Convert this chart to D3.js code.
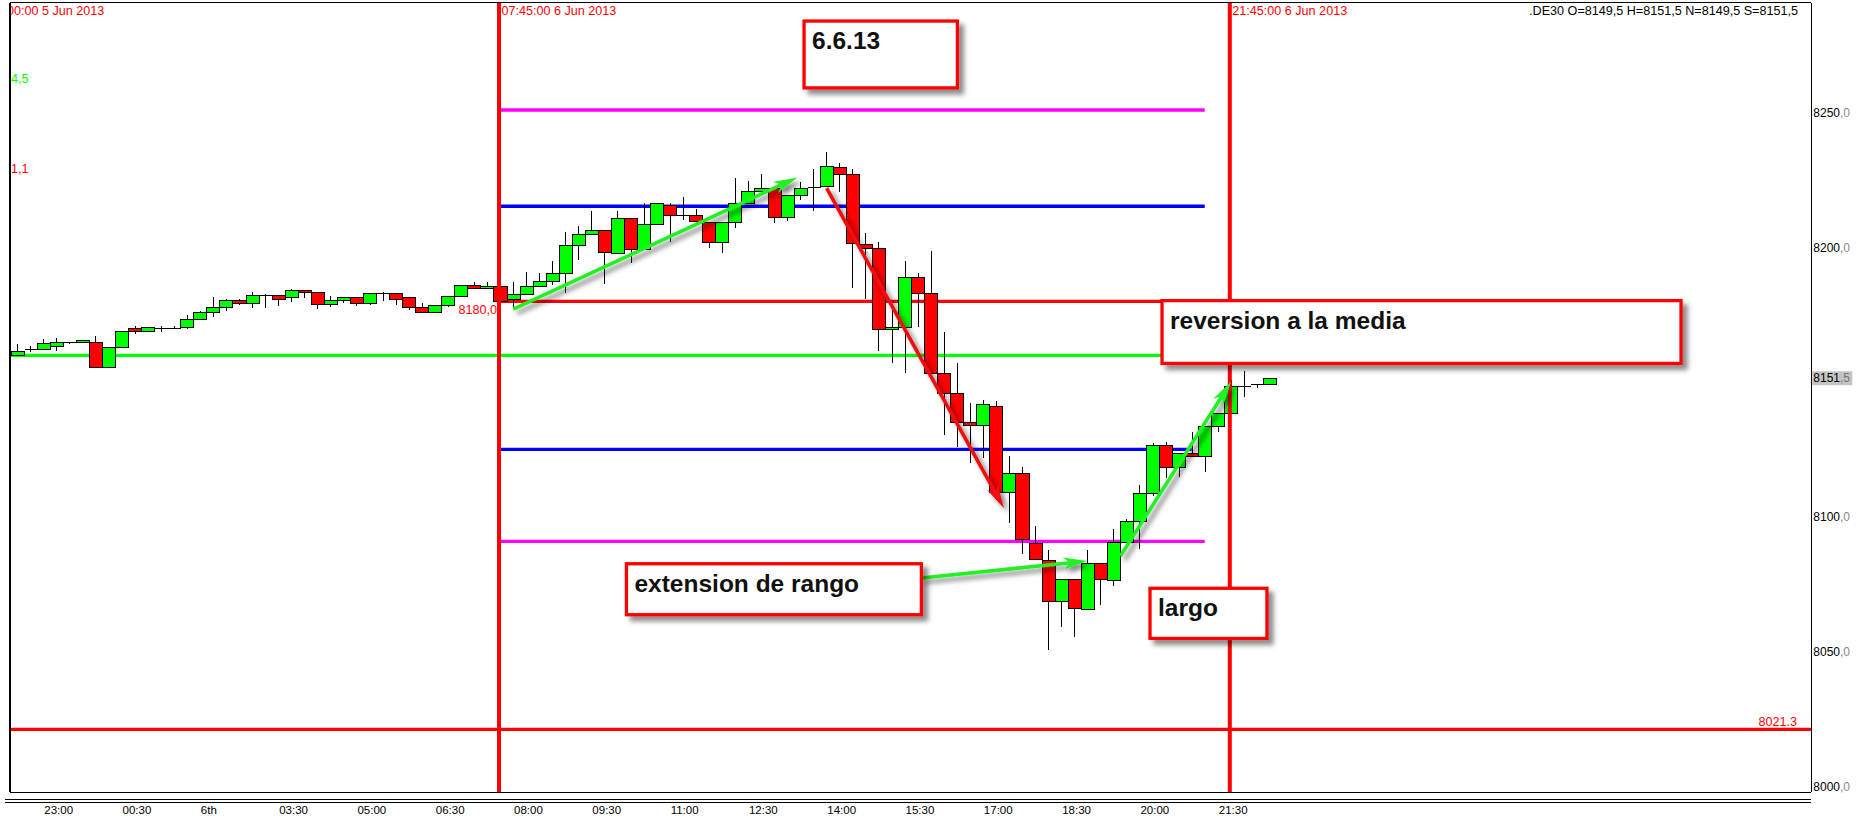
<!DOCTYPE html>
<html><head><meta charset="utf-8">
<script src="https://cdn.jsdelivr.net/npm/d3@7/dist/d3.min.js"></script>
<style>
html,body{margin:0;padding:0;background:#fff;overflow:hidden;}
svg{display:block;}
text{font-family:"Liberation Sans",Arial,sans-serif;}
</style></head><body>
<svg id="chart" width="1857" height="820"></svg>
<script>
// ---------- DATA ----------
const times = ("22:30 22:45 23:00 23:15 23:30 23:45 00:00 00:15 00:30 00:45 01:00 01:15 01:30 01:45 " +
  "02:00 02:15 02:30 02:45 03:00 03:15 03:30 03:45 04:00 04:15 04:30 04:45 05:00 05:15 05:30 05:45 " +
  "06:00 06:15 06:30 06:45 07:00 07:15 07:30 07:45 08:00 08:15 08:30 08:45 09:00 09:15 09:30 09:45 " +
  "10:00 10:15 10:30 10:45 11:00 11:15 11:30 11:45 12:00 12:15 12:30 12:45 13:00 13:15 13:30 13:45 " +
  "14:00 14:15 14:30 14:45 15:00 15:15 15:30 15:45 16:00 16:15 16:30 16:45 17:00 17:15 17:30 17:45 " +
  "18:00 18:15 18:30 18:45 19:00 19:15 19:30 19:45 20:00 20:15 20:30 20:45 21:00 21:15 21:30 21:45 " +
  "22:00 22:15 22:30b").split(" ");
const open = [8160.0,8162.2,8162.2,8163.3,8164.8,8164.8,8164.8,8155.6,8163.1,8170.0,8168.9,8170.1,8170.1,8170.4,
  8173.4,8176.0,8177.8,8180.4,8179.3,8182.3,8182.3,8181.5,8184.2,8183.4,8178.9,8180.4,8181.5,8179.3,8183.0,8183.0,
  8181.5,8177.8,8176.0,8178.6,8181.9,8186.0,8185.0,8185.6,8180.8,8182.8,8185.7,8187.7,8190.4,8200.8,8204.9,8206.4,
  8197.8,8210.8,8199.3,8208.6,8215.8,8212.1,8212.1,8209.6,8201.9,8209.3,8216.4,8220.8,8222.2,8211.4,8219.4,8222.2,
  8222.7,8230.0,8227.3,8201.2,8199.7,8169.6,8170.6,8188.9,8183.0,8153.3,8145.9,8135.4,8134.1,8141.3,8109.2,8116.2,
  8090.3,8084.1,8068.9,8076.9,8065.8,8083.1,8076.7,8090.6,8098.7,8109.1,8126.7,8118.4,8123.9,8122.7,8133.8,8138.5,
  8148.6,8148.9,8149.5];
const high = [8164.2,8163.5,8166.1,8166.4,8164.8,8165.6,8167.2,8163.1,8168.9,8170.9,8170.4,8170.9,8170.9,8175.0,
  8176.4,8181.6,8180.9,8180.9,8183.5,8182.8,8182.3,8184.7,8184.2,8183.4,8182.1,8181.8,8181.5,8183.3,8183.6,8183.0,
  8181.5,8179.5,8178.6,8181.9,8186.0,8187.2,8187.2,8186.1,8187.1,8190.9,8190.4,8195.1,8205.8,8208.0,8213.5,8206.4,
  8213.7,8210.8,8216.4,8216.4,8216.4,8218.6,8214.2,8209.6,8209.3,8225.7,8224.7,8227.3,8222.2,8219.4,8224.2,8229.0,
  8235.3,8231.5,8229.0,8205.5,8202.2,8177.4,8195.0,8190.7,8198.7,8168.5,8157.0,8142.2,8143.4,8143.1,8122.7,8118.7,
  8096.8,8087.8,8076.9,8076.9,8087.8,8083.1,8095.6,8099.2,8111.9,8127.4,8128.0,8123.9,8131.7,8133.8,8138.5,8150.9,
  8154.3,8149.4,8151.5];
const low = [8159.9,8161.4,8162.2,8161.7,8164.1,8164.8,8155.6,8155.6,8163.1,8167.8,8168.8,8168.8,8170.1,8169.9,
  8173.1,8174.1,8176.3,8178.8,8177.7,8177.7,8178.4,8179.9,8181.4,8177.3,8178.1,8179.3,8178.3,8178.7,8180.0,8178.8,
  8176.8,8176.0,8176.0,8178.1,8181.8,8185.0,8185.0,8180.0,8177.1,8182.8,8185.5,8186.1,8183.2,8195.4,8204.9,8186.3,
  8197.8,8194.4,8199.3,8208.6,8202.2,8210.2,8209.0,8199.9,8197.8,8207.4,8216.4,8220.8,8209.2,8209.8,8217.6,8213.7,
  8222.7,8220.7,8184.9,8180.9,8161.7,8157.3,8153.3,8170.6,8153.3,8130.4,8125.9,8119.9,8121.8,8109.0,8097.7,8086.3,
  8084.4,8050.7,8059.4,8055.4,8065.5,8067.4,8074.4,8090.6,8088.0,8108.0,8114.4,8115.0,8122.5,8116.8,8131.7,8138.5,
  8144.7,8147.8,8149.5];
const close = [8161.7,8162.2,8164.5,8164.8,8164.8,8165.6,8155.6,8163.1,8168.9,8168.9,8170.4,8170.1,8170.1,8173.5,
  8176.0,8177.8,8180.5,8179.3,8182.3,8182.3,8180.8,8184.2,8183.5,8178.9,8180.4,8181.5,8179.3,8183.0,8183.0,8180.8,
  8177.8,8176.0,8178.6,8181.9,8186.0,8185.0,8185.6,8180.0,8182.8,8185.7,8187.7,8190.4,8200.8,8204.9,8206.4,8198.5,
  8210.8,8199.3,8208.6,8216.4,8212.1,8212.1,8209.8,8201.9,8209.3,8216.4,8220.8,8222.2,8211.4,8219.4,8222.2,8222.4,
  8230.1,8227.3,8201.5,8199.7,8169.6,8170.6,8188.9,8183.0,8153.3,8145.9,8135.4,8134.1,8141.8,8109.2,8116.2,8091.9,
  8084.4,8068.9,8076.9,8066.2,8083.1,8076.9,8090.6,8098.7,8109.1,8126.7,8118.7,8123.9,8122.7,8133.8,8138.5,8148.6,
  8148.6,8149.2,8151.5];

const xTickTimes  = ["23:00","00:30","02:00","03:30","05:00","06:30","08:00","09:30","11:00","12:30","14:00","15:30","17:00","18:30","20:00","21:30"];
const xTickLabels = ["23:00","00:30","6th","03:30","05:00","06:30","08:00","09:30","11:00","12:30","14:00","15:30","17:00","18:30","20:00","21:30"];
const yTicks = [8000, 8050, 8100, 8200, 8250];

const markerTimes  = ["07:45", "21:45"];
const markerLabels = ["07:45:00 6 Jun 2013", "21:45:00 6 Jun 2013"];

const levelValues = [8251.0, 8215.3, 8180.0, 8160.0, 8125.1, 8091.0, 8021.3];
const levelFrom   = ["07:45", "07:45", "07:45", null, "07:45", "07:45", null];
const levelTo     = ["21:15", "21:15", "21:15", "21:15", "21:00", "21:15", null];

// arrows: [fractional candle index, price]
const arrowFrom = [[38.02, 8177.1], [62.03, 8222.0], [69.29, 8077.4], [84.55, 8085.6]];
const arrowTo   = [[59.78, 8226.0], [75.62, 8103.3], [82.0, 8083.7], [93.02, 8150.2]];
const arrowKind = ["up", "down", "up", "up"];

// note boxes: text, index range, price range
const noteTexts = ["6.6.13", "reversion a la media", "extension de rango", "largo"];
const noteIdx   = [[60.3, 72.05], [87.73, 127.5], [46.69, 69.29], [86.81, 95.77]];
const notePrice = [[8284.0, 8259.2], [8180.3, 8157.0], [8082.7, 8063.8], [8073.6, 8055.0]];

const header = ".DE30 O=8149,5 H=8151,5 N=8149,5 S=8151,5";
const leftLabels = ["4,5", "1,1"];
const leftLabelPrice = [8262.6, 8229.3];

// ---------- LAYOUT ----------
const W = 1857, H = 820;
const L = 10, R = 1811.3, T = 2.5, B = 792.3;
const svg = d3.select("#chart");
const GREEN = "#00ff00", RED = "#ff0000", BLUE = "#0000ff", MAG = "#ff00ff";

const y = d3.scaleLinear().domain([8000, 8250]).range([786.7, 112.7]);
const xi = d3.scaleLinear().domain([0, times.length - 1]).range([17.15, 17.15 + 13.05 * (times.length - 1)]);
const xb = d3.scaleBand().domain(times).range([xi(-0.5), xi(times.length - 0.5)]).padding(0);
const bw = xb.bandwidth();
const cx = t => xb(t) + bw / 2;

const defs = svg.append("defs");
defs.append("clipPath").attr("id", "plotclip").append("rect")
  .attr("x", L).attr("y", T).attr("width", R - L).attr("height", B - T);
const f1 = defs.append("filter").attr("id", "shBox").attr("x", "-10%").attr("y", "-20%").attr("width", "130%").attr("height", "160%");
f1.append("feDropShadow").attr("dx", 5).attr("dy", 5).attr("stdDeviation", 2.5).attr("flood-color", "#000").attr("flood-opacity", 0.45);
const f2 = defs.append("filter").attr("id", "shArrow").attr("x", "-20%").attr("y", "-20%").attr("width", "140%").attr("height", "140%");
f2.append("feDropShadow").attr("dx", 4).attr("dy", 4).attr("stdDeviation", 2.5).attr("flood-color", "#000").attr("flood-opacity", 0.5);

svg.append("rect").attr("width", W).attr("height", H).attr("fill", "#fff");

const plot = svg.append("g").attr("clip-path", "url(#plotclip)");

// top-left clipped date label
plot.append("text").attr("x", 7).attr("y", 14.5).attr("fill", RED).attr("font-size", 12.6).text("00:00 5 Jun 2013");

// left indicator labels
plot.selectAll("text.ll").data(leftLabels).join("text").attr("class", "ll")
  .attr("x", 11).attr("y", (d, i) => y(leftLabelPrice[i])).attr("dy", "0.35em")
  .attr("font-size", 12.6).attr("fill", (d, i) => i === 0 ? GREEN : RED).text(d => d);

// level lines
const levelColors = [MAG, BLUE, RED, GREEN, BLUE, MAG, RED];
plot.selectAll("line.lvl").data(levelValues).join("line").attr("class", "lvl")
  .attr("x1", (d, i) => levelFrom[i] ? cx(levelFrom[i]) : L)
  .attr("x2", (d, i) => levelTo[i] ? cx(levelTo[i]) : R)
  .attr("y1", d => y(d)).attr("y2", d => y(d))
  .attr("stroke", (d, i) => levelColors[i]).attr("stroke-width", 3.3);

// candles
const data = times.map((t, i) => ({t, o: open[i], h: high[i], l: low[i], c: close[i]}));
const cg = plot.append("g").attr("shape-rendering", "crispEdges");
cg.selectAll("line.wick").data(data).join("line").attr("class", "wick")
  .attr("x1", d => Math.round(cx(d.t)) + 0.5).attr("x2", d => Math.round(cx(d.t)) + 0.5)
  .attr("y1", d => y(d.h)).attr("y2", d => y(d.l)).attr("stroke", "#000").attr("stroke-width", 1);
data.forEach(d => {
  const x0 = Math.round(xb(d.t)) + 0.5, x1 = Math.round(xb(d.t) + bw) + 0.5;
  const yt = y(Math.max(d.o, d.c)), yb = y(Math.min(d.o, d.c));
  if (yb - yt < 1.2) {
    cg.append("line").attr("x1", x0).attr("x2", x1).attr("y1", Math.round(yt) + 0.5).attr("y2", Math.round(yt) + 0.5)
      .attr("stroke", "#000").attr("stroke-width", 1.3);
  } else {
    cg.append("rect").attr("x", x0).attr("width", x1 - x0).attr("y", Math.round(yt) + 0.5).attr("height", Math.max(1, Math.round(yb) - Math.round(yt)))
      .attr("fill", d.c >= d.o ? GREEN : RED).attr("stroke", "#000").attr("stroke-width", 1.3);
  }
});

// vertical marker lines
plot.selectAll("line.mk").data(markerTimes).join("line").attr("class", "mk")
  .attr("x1", d => cx(d) - 1).attr("x2", d => cx(d) - 1).attr("y1", T).attr("y2", B)
  .attr("stroke", RED).attr("stroke-width", 4);
plot.selectAll("text.mkl").data(markerLabels).join("text").attr("class", "mkl")
  .attr("x", (d, i) => cx(markerTimes[i]) + 1.5).attr("y", 14.5).attr("fill", RED).attr("font-size", 12.6).text(d => d);

// level value labels
plot.append("text").attr("x", cx("07:45") - 3).attr("y", y(8180) + 8).attr("dy", "0.35em").attr("text-anchor", "end")
  .attr("fill", RED).attr("font-size", 12.6).text("8180,0");
plot.append("text").attr("x", 1797).attr("y", y(8021.3) - 3).attr("text-anchor", "end")
  .attr("fill", RED).attr("font-size", 12.6).text("8021.3");

// header
svg.append("text").attr("x", 1798).attr("y", 14.5).attr("text-anchor", "end").attr("fill", "#000").attr("font-size", 12.6).text(header);

// arrows
const ag = plot.append("g").attr("filter", "url(#shArrow)");
arrowFrom.forEach((a, i) => {
  const x1 = xi(a[0]), y1 = y(a[1]), x2 = xi(arrowTo[i][0]), y2 = y(arrowTo[i][1]);
  const dx = x2 - x1, dy = y2 - y1, len = Math.hypot(dx, dy), ux = dx / len, uy = dy / len;
  const px = -uy, py = ux, hl = 24, hw = 6;
  const col = arrowKind[i] === "up" ? "#22f022" : "#f01010";
  ag.append("line").attr("x1", x1).attr("y1", y1).attr("x2", x2 - ux * hl * 0.7).attr("y2", y2 - uy * hl * 0.7)
    .attr("stroke", col).attr("stroke-width", 3.6);
  const pts = [[x2, y2], [x2 - ux * hl + px * hw, y2 - uy * hl + py * hw], [x2 - ux * hl * 0.72, y2 - uy * hl * 0.72], [x2 - ux * hl - px * hw, y2 - uy * hl - py * hw]];
  ag.append("polygon").attr("points", pts.map(p => p.join(",")).join(" ")).attr("fill", col);
});

// note boxes
noteTexts.forEach((t, i) => {
  const x0 = xi(noteIdx[i][0]), x1 = xi(noteIdx[i][1]), y0 = y(notePrice[i][0]), y1 = y(notePrice[i][1]);
  const g = svg.append("g");
  g.append("rect").attr("x", x0).attr("y", y0).attr("width", x1 - x0).attr("height", y1 - y0)
    .attr("fill", "#fff").attr("stroke", RED).attr("stroke-width", 3.3).attr("filter", "url(#shBox)");
  g.append("text").attr("x", x0 + 8).attr("y", y0 + 28).attr("font-size", 24.5).attr("font-weight", "bold")
    .attr("fill", "#111").text(t);
});

// frame
const fr = svg.append("g").attr("shape-rendering", "crispEdges").attr("stroke", "#000").attr("stroke-width", 1.3);
fr.append("line").attr("x1", L).attr("x2", R).attr("y1", T).attr("y2", T);
fr.append("line").attr("x1", L).attr("x2", L).attr("y1", T).attr("y2", B);
fr.append("line").attr("x1", R).attr("x2", R).attr("y1", T).attr("y2", B);
fr.append("line").attr("x1", L).attr("x2", R).attr("y1", B).attr("y2", B);
fr.append("line").attr("x1", 5).attr("x2", R).attr("y1", 799.5).attr("y2", 799.5);
fr.append("line").attr("x1", 5).attr("x2", R).attr("y1", 802.5).attr("y2", 802.5);

// y axis
const ya = svg.append("g").attr("transform", `translate(${R + 1},0)`)
  .call(d3.axisRight(y).tickValues(yTicks).tickSize(0).tickPadding(1));
ya.select(".domain").remove();
ya.selectAll("text").attr("font-size", 12).attr("font-family", "Liberation Sans, Arial, sans-serif").attr("fill", "#000")
  .each(function(d) {
    const s = d3.select(this); s.text("");
    s.append("tspan").text(String(d));
    s.append("tspan").attr("fill", "#888").text(",0");
  });
// current price label
const last = close[close.length - 1];
const pl = svg.append("g");
pl.append("rect").attr("x", R + 1).attr("y", y(last) - 7).attr("width", 40).attr("height", 14).attr("fill", "#c4c4c4");
const pt = pl.append("text").attr("x", R + 2).attr("y", y(last)).attr("dy", "0.35em").attr("font-size", 12);
pt.append("tspan").attr("fill", "#000").text(String(Math.floor(last)));
pt.append("tspan").attr("fill", "#777").text("," + String(last).split(".")[1]);

// x axis labels
const xa = svg.append("g").attr("transform", `translate(0,${B})`)
  .call(d3.axisBottom(xb).tickValues(xTickTimes).tickSize(0).tickPadding(0).tickFormat((d, i) => xTickLabels[i]));
xa.select(".domain").remove();
xa.selectAll(".tick").attr("transform", d => `translate(${cx(d) + 1},0)`);
xa.selectAll("text").attr("text-anchor", "start").attr("y", 18).attr("dy", "0.35em").attr("font-size", 11.5)
  .attr("font-family", "Liberation Sans, Arial, sans-serif").attr("fill", "#000");
</script>
</body></html>
